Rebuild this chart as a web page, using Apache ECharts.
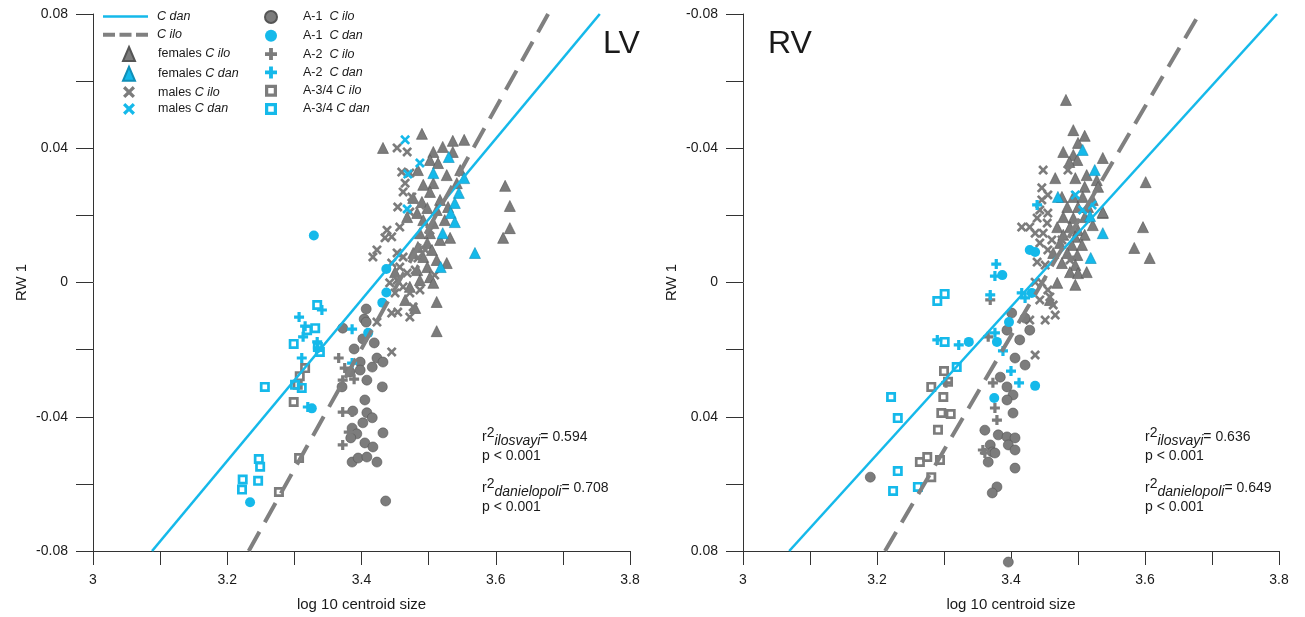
<!DOCTYPE html>
<html><head><meta charset="utf-8">
<script src="https://cdn.jsdelivr.net/npm/echarts@6/dist/echarts.min.js"></script>
<style>html,body{margin:0;padding:0;background:#fff}#c{width:1305px;height:617px}</style>
</head><body><div id="c"></div>
<script>
// ---------- DATA (x = log10 centroid size, y = RW 1) ----------
// LV panel
const lvDanLine = [[3.088,-0.08],[3.755,0.08]];
const lvIloLine = [[3.232,-0.08],[3.678,0.08]];
const lvFemIlo = [[3.490,0.0443],[3.432,0.0401],[3.536,0.0422],[3.553,0.0425],[3.521,0.0404],[3.507,0.0389],[3.536,0.0389],[3.502,0.0365],[3.514,0.0356],[3.484,0.0335],[3.527,0.0320],[3.507,0.0296],[3.492,0.0291],[3.542,0.0296],[3.502,0.0270],[3.477,0.0252],[3.490,0.0240],[3.517,0.0246],[3.498,0.0222],[3.512,0.0216],[3.529,0.0225],[3.468,0.0195],[3.483,0.0207],[3.492,0.0186],[3.507,0.0177],[3.524,0.0186],[3.487,0.0147],[3.502,0.0147],[3.498,0.0118],[3.517,0.0127],[3.532,0.0133],[3.484,0.0106],[3.505,0.0097],[3.477,0.0088],[3.492,0.0076],[3.512,0.0067],[3.498,0.0046],[3.483,0.0037],[3.527,0.0058],[3.502,0.0016],[3.487,0.0007],[3.507,-0.0001],[3.472,-0.0013],[3.512,-0.0058],[3.480,-0.0076],[3.614,0.0288],[3.621,0.0228],[3.621,0.0162],[3.611,0.0133],[3.512,-0.0145],[3.547,0.0335],[3.450,0.0031],[3.465,-0.0052]];
const lvFemDan = [[3.530,0.0374],[3.507,0.0326],[3.553,0.0311],[3.545,0.0267],[3.539,0.0237],[3.533,0.0207],[3.539,0.0180],[3.521,0.0147],[3.569,0.0088],[3.518,0.0046]];
const lvMaleIlo = [[3.453,0.0401],[3.468,0.0389],[3.460,0.0329],[3.472,0.0326],[3.465,0.0296],[3.462,0.0270],[3.475,0.0255],[3.454,0.0225],[3.472,0.0210],[3.457,0.0165],[3.438,0.0156],[3.445,0.0136],[3.435,0.0133],[3.423,0.0097],[3.417,0.0076],[3.453,0.0088],[3.462,0.0076],[3.445,0.0058],[3.457,0.0046],[3.468,0.0028],[3.453,0.0007],[3.442,-0.0001],[3.462,-0.0013],[3.450,-0.0031],[3.472,-0.0031],[3.477,-0.0073],[3.445,-0.0091],[3.454,-0.0088],[3.472,-0.0103],[3.423,-0.0118],[3.445,-0.0207],[3.487,0.0231],[3.502,0.0156],[3.495,0.0097],[3.480,0.0037],[3.509,0.0022],[3.487,-0.0022],[3.484,0.0073]];
const lvMaleDan = [[3.465,0.0425],[3.487,0.0356],[3.469,0.0323],[3.468,0.0219]];
const lvA1Ilo = [[3.407,-0.0079],[3.404,-0.0109],[3.407,-0.0118],[3.372,-0.0136],[3.402,-0.0168],[3.419,-0.0180],[3.389,-0.0198],[3.423,-0.0225],[3.432,-0.0237],[3.416,-0.0252],[3.398,-0.0237],[3.398,-0.0261],[3.383,-0.0267],[3.408,-0.0291],[3.371,-0.0311],[3.431,-0.0311],[3.405,-0.0350],[3.408,-0.0388],[3.387,-0.0383],[3.416,-0.0403],[3.402,-0.0418],[3.386,-0.0434],[3.393,-0.0451],[3.432,-0.0448],[3.384,-0.0463],[3.405,-0.0478],[3.417,-0.0490],[3.386,-0.0535],[3.395,-0.0523],[3.408,-0.0520],[3.423,-0.0535],[3.436,-0.0651]];
const lvA1Dan = [[3.329,0.0140],[3.437,0.0040],[3.437,-0.0030],[3.431,-0.0060],[3.410,-0.0150],[3.326,-0.0375],[3.234,-0.0655]];
const lvA2Ilo = [[3.366,-0.0225],[3.375,-0.0255],[3.372,-0.0291],[3.389,-0.0288],[3.372,-0.0386],[3.386,-0.0386],[3.381,-0.0446],[3.372,-0.0484]];
const lvA2Dan = [[3.341,-0.0082],[3.307,-0.0103],[3.386,-0.0139],[3.313,-0.0162],[3.334,-0.0177],[3.335,-0.0195],[3.311,-0.0225],[3.386,-0.0240],[3.320,-0.0371],[3.316,-0.0130]];
const lvA34Ilo = [[3.316,-0.0255],[3.308,-0.0279],[3.305,-0.0305],[3.299,-0.0356],[3.307,-0.0523],[3.277,-0.0624]];
const lvA34Dan = [[3.334,-0.0067],[3.319,-0.0142],[3.331,-0.0136],[3.299,-0.0183],[3.338,-0.0207],[3.335,-0.0192],[3.256,-0.0311],[3.301,-0.0305],[3.311,-0.0314],[3.247,-0.0526],[3.249,-0.0549],[3.223,-0.0587],[3.246,-0.0591],[3.222,-0.0617]];
// RV panel (y axis inverted)
const rvDanLine = [[3.069,0.08],[3.797,-0.08]];
const rvIloLine = [[3.212,0.08],[3.681,-0.08]];
const rvFemIlo = [[3.482,-0.0544],[3.493,-0.0454],[3.510,-0.0437],[3.500,-0.0416],[3.478,-0.0389],[3.493,-0.0380],[3.499,-0.0365],[3.487,-0.0359],[3.537,-0.0371],[3.466,-0.0311],[3.496,-0.0311],[3.513,-0.0320],[3.528,-0.0305],[3.510,-0.0285],[3.530,-0.0285],[3.476,-0.0255],[3.493,-0.0255],[3.507,-0.0255],[3.522,-0.0246],[3.484,-0.0225],[3.500,-0.0225],[3.515,-0.0225],[3.478,-0.0195],[3.493,-0.0192],[3.510,-0.0195],[3.537,-0.0207],[3.469,-0.0165],[3.488,-0.0165],[3.500,-0.0156],[3.522,-0.0171],[3.478,-0.0142],[3.496,-0.0136],[3.510,-0.0142],[3.473,-0.0118],[3.491,-0.0112],[3.506,-0.0112],[3.463,-0.0088],[3.484,-0.0088],[3.499,-0.0082],[3.476,-0.0058],[3.496,-0.0052],[3.488,-0.0031],[3.500,-0.0028],[3.513,-0.0031],[3.469,0.0001],[3.496,0.0007],[3.458,0.0052],[3.601,-0.0299],[3.597,-0.0165],[3.584,-0.0103],[3.607,-0.0073],[3.537,-0.0210]];
const rvFemDan = [[3.507,-0.0395],[3.525,-0.0335],[3.470,-0.0255],[3.518,-0.0198],[3.537,-0.0147],[3.519,-0.0073]];
const rvMaleIlo = [[3.448,-0.0335],[3.485,-0.0335],[3.446,-0.0282],[3.455,-0.0261],[3.446,-0.0246],[3.443,-0.0216],[3.455,-0.0207],[3.439,-0.0192],[3.416,-0.0165],[3.428,-0.0165],[3.454,-0.0177],[3.436,-0.0147],[3.448,-0.0147],[3.461,-0.0127],[3.443,-0.0118],[3.455,-0.0097],[3.439,-0.0061],[3.451,-0.0052],[3.436,-0.0001],[3.446,0.0001],[3.455,0.0022],[3.443,0.0052],[3.458,0.0043],[3.463,0.0067],[3.428,0.0112],[3.436,0.0216],[3.451,0.0112],[3.466,0.0097],[3.476,-0.0127],[3.488,-0.0067]];
const rvMaleDan = [[3.521,-0.0231],[3.496,-0.0261],[3.507,-0.0216]];
const rvA1Ilo = [[3.401,0.0091],[3.394,0.0142],[3.406,0.0225],[3.384,0.0282],[3.394,0.0311],[3.403,0.0335],[3.394,0.0350],[3.403,0.0389],[3.361,0.0440],[3.381,0.0454],[3.394,0.0460],[3.406,0.0463],[3.369,0.0484],[3.396,0.0484],[3.406,0.0499],[3.372,0.0505],[3.376,0.0508],[3.366,0.0535],[3.406,0.0553],[3.379,0.0609],[3.372,0.0627],[3.190,0.0580],[3.396,0.0833],[3.421,0.0106],[3.428,0.0142],[3.413,0.0171],[3.421,0.0246]];
const rvA1Dan = [[3.428,-0.0097],[3.436,-0.0091],[3.387,-0.0022],[3.431,0.0031],[3.397,0.0118],[3.379,0.0177],[3.375,0.0344],[3.436,0.0308],[3.337,0.0177]];
const rvA2Ilo = [[3.369,0.0052],[3.366,0.0162],[3.373,0.0299],[3.376,0.0374],[3.379,0.0410],[3.361,0.0508],[3.303,0.0299],[3.358,0.0499]];
const rvA2Dan = [[3.378,-0.0055],[3.376,-0.0019],[3.369,0.0037],[3.416,0.0031],[3.439,-0.0231],[3.376,0.0150],[3.388,0.0204],[3.400,0.0264],[3.412,0.0299],[3.290,0.0171],[3.322,0.0186],[3.421,0.0046]];
const rvA34Ilo = [[3.300,0.0264],[3.306,0.0296],[3.281,0.0311],[3.299,0.0341],[3.296,0.0389],[3.310,0.0392],[3.291,0.0439],[3.264,0.0535],[3.275,0.0520],[3.294,0.0529],[3.281,0.0580]];
const rvA34Dan = [[3.290,0.0055],[3.301,0.0034],[3.301,0.0177],[3.319,0.0252],[3.221,0.0341],[3.231,0.0404],[3.231,0.0562],[3.224,0.0621],[3.261,0.0609]];

const statsLV = ['0.594','0.708'];
const statsRV = ['0.636','0.649'];

// ---------- STYLE ----------
const CYAN = '#15b9ea', GRAY = '#7c7c7c', EDGE = '#555555';
const FONT = 'Liberation Sans, Arial, sans-serif';
const PLUS = 'path://M3.4,0H6.6V3.4H10V6.6H6.6V10H3.4V6.6H0V3.4H3.4Z';
const CROSS = 'path://M1.9,0L5,3.1L8.1,0L10,1.9L6.9,5L10,8.1L8.1,10L5,6.9L1.9,10L0,8.1L3.1,5L0,1.9Z';
const OSQ = 'path://M0,0H10V10H0Z M2.7,2.7V7.3H7.3V2.7Z';
const SOLID_ICON = 'path://M0,0H45V2.6H0Z';
const DASH_ICON = 'path://M0,0H12V4H0Z M16.5,0H28.5V4H16.5Z M33,0H45V4H33Z';

const groups = [
  {name:'females C ilo', lv:lvFemIlo, rv:rvFemIlo, sym:'triangle', size:11, color:GRAY, edge:EDGE},
  {name:'males C ilo', lv:lvMaleIlo, rv:rvMaleIlo, sym:CROSS, size:10, color:GRAY, edge:null},
  {name:'A-1  C ilo', lv:lvA1Ilo, rv:rvA1Ilo, sym:'circle', size:10, color:GRAY, edge:EDGE},
  {name:'A-2  C ilo', lv:lvA2Ilo, rv:rvA2Ilo, sym:PLUS, size:10, color:GRAY, edge:null},
  {name:'A-3/4 C ilo', lv:lvA34Ilo, rv:rvA34Ilo, sym:OSQ, size:10, color:GRAY, edge:null},
  {name:'females C dan', lv:lvFemDan, rv:rvFemDan, sym:'triangle', size:11, color:CYAN, edge:'#0f8fb8'},
  {name:'males C dan', lv:lvMaleDan, rv:rvMaleDan, sym:CROSS, size:10, color:CYAN, edge:null},
  {name:'A-1  C dan', lv:lvA1Dan, rv:rvA1Dan, sym:'circle', size:10, color:CYAN, edge:null},
  {name:'A-2  C dan', lv:lvA2Dan, rv:rvA2Dan, sym:PLUS, size:10, color:CYAN, edge:null},
  {name:'A-3/4 C dan', lv:lvA34Dan, rv:rvA34Dan, sym:OSQ, size:10, color:CYAN, edge:null}
];

const series = [];
groups.forEach(g => {
  [0,1].forEach(p => {
    series.push({
      type:'scatter', name:g.name, xAxisIndex:p, yAxisIndex:p,
      data: p===0 ? g.lv : g.rv, symbol:g.sym, symbolSize:g.size, symbolKeepAspect:true,
      clip:false, z:3,
      itemStyle:{color:g.color, opacity:1, borderColor:g.edge||g.color, borderWidth:g.edge?0.6:0},
      emphasis:{disabled:true}
    });
  });
});
const lineDefs = [
  {name:'C dan', lv:lvDanLine, rv:rvDanLine, style:{color:CYAN, width:2.6, type:'solid'}},
  {name:'C ilo', lv:lvIloLine, rv:rvIloLine, style:{color:'#808080', width:4, type:[22,11]}}
];
lineDefs.forEach(l => {
  [0,1].forEach(p => {
    series.push({type:'line', name:l.name, xAxisIndex:p, yAxisIndex:p, data:p===0?l.lv:l.rv,
      symbol:'none', showSymbol:false, lineStyle:l.style, itemStyle:{color:l.style.color}, z:4, clip:false,
      emphasis:{disabled:true}, animation:false});
  });
});

function yFmt(v){ const k=Math.round(v/0.02); if(k%2!==0) return ''; const r=k*0.02; return r===0?'0':r.toFixed(2); }
function xFmt(v){ const k=Math.round(v*10); return k%2===0 ? String(k/10) : ''; }
function xAxis(i){ return {type:'value', gridIndex:i, min:3, max:3.8, interval:0.1,
  name:'log 10 centroid size', nameLocation:'middle', nameGap:46,
  nameTextStyle:{fontSize:15, color:'#1a1a1a', fontFamily:FONT},
  axisLine:{show:true, onZero:false, lineStyle:{color:'#333', width:1}},
  axisTick:{show:true, length:14, lineStyle:{color:'#333'}},
  axisLabel:{formatter:xFmt, fontSize:14, color:'#1a1a1a', fontFamily:FONT, margin:22, hideOverlap:false, showMinLabel:true, showMaxLabel:true},
  splitLine:{show:false}}; }
function yAxis(i){ return {type:'value', gridIndex:i, min:-0.08, max:0.08, interval:0.02, inverse:i===1,
  name:'RW 1', nameLocation:'middle', nameGap:64, nameRotate:90,
  nameTextStyle:{fontSize:15, color:'#1a1a1a', fontFamily:FONT},
  axisLine:{show:true, onZero:false, lineStyle:{color:'#333', width:1}},
  axisTick:{show:true, length:17, lineStyle:{color:'#333'}},
  axisLabel:{formatter:yFmt, fontSize:14, color:'#1a1a1a', fontFamily:FONT, margin:25, hideOverlap:false, showMinLabel:true, showMaxLabel:true},
  splitLine:{show:false}}; }

const LFS = 12.5;
function legFmt(name){ const i=name.indexOf('C '); const pre=name.slice(0,i);
  return '{sp| }' + (pre?'{n|'+pre+'}':'') + '{i|'+name.slice(i)+'}'; }
function legRich(sp){ return {sp:{width:sp, fontSize:LFS, lineHeight:14},
  n:{fontSize:LFS, color:'#1a1a1a', fontFamily:FONT, lineHeight:14},
  i:{fontSize:LFS, color:'#1a1a1a', fontFamily:FONT, fontStyle:'italic', lineHeight:14}}; }
function legend(data, left, top, w, h, sp, gap){ return {data:data, orient:'vertical', left:left, top:top, padding:0,
  itemWidth:w, itemHeight:h, itemGap:gap, selectedMode:false, formatter:legFmt, symbolKeepAspect:true,
  textStyle:{rich:legRich(sp)}, inactiveColor:'#ccc'}; }

function statText(left, top, sub, val){ return {type:'text', left:left, top:top, silent:true, style:{
  text:'{r|r}{s|2}{b|'+sub+'}{n|= '+val+'}\n{p|p < 0.001}',
  rich:{ r:{fontSize:14, fontFamily:FONT, fill:'#1a1a1a', lineHeight:22, verticalAlign:'middle'},
         s:{fontSize:14, fontFamily:FONT, fill:'#1a1a1a', lineHeight:14, verticalAlign:'top'},
         b:{fontSize:14, fontFamily:FONT, fill:'#1a1a1a', fontStyle:'italic', lineHeight:14, verticalAlign:'bottom'},
         n:{fontSize:14, fontFamily:FONT, fill:'#1a1a1a', lineHeight:22, verticalAlign:'middle'},
         p:{fontSize:14, fontFamily:FONT, fill:'#1a1a1a', lineHeight:16}}}}; }

const option = {
  animation:false,
  backgroundColor:'#fff',
  grid:[{left:93, top:14, width:537, height:537, containLabel:false, outerBoundsMode:'none'},
        {left:743, top:14, width:536, height:537, containLabel:false, outerBoundsMode:'none'}],
  xAxis:[xAxis(0), xAxis(1)],
  yAxis:[yAxis(0), yAxis(1)],
  legend:[
    legend([{name:'C dan', icon:SOLID_ICON},{name:'C ilo', icon:DASH_ICON}], 103, 10, 45, 14, 4, 5.3),
    legend(['females C ilo','females C dan','males C ilo','males C dan'], 122, 46, 12, 14, 18, 3.8),
    legend(['A-1  C ilo','A-1  C dan','A-2  C ilo','A-2  C dan','A-3/4 C ilo','A-3/4 C dan'], 264, 10, 12, 14, 21, 5.3)
  ],
  graphic:[
    {type:'text', left:603, top:28, silent:true, style:{text:'LV', fontSize:32, fontFamily:FONT, fill:'#1a1a1a'}},
    {type:'text', left:768, top:28, silent:true, style:{text:'RV', fontSize:32, fontFamily:FONT, fill:'#1a1a1a'}},
    statText(482, 426, 'ilosvayi', statsLV[0]),
    statText(482, 477, 'danielopoli', statsLV[1]),
    statText(1145, 426, 'ilosvayi', statsRV[0]),
    statText(1145, 477, 'danielopoli', statsRV[1])
  ],
  series:series
};
const chart = echarts.init(document.getElementById('c'), null, {renderer:'canvas'});
chart.setOption(option);
</script></body></html>
